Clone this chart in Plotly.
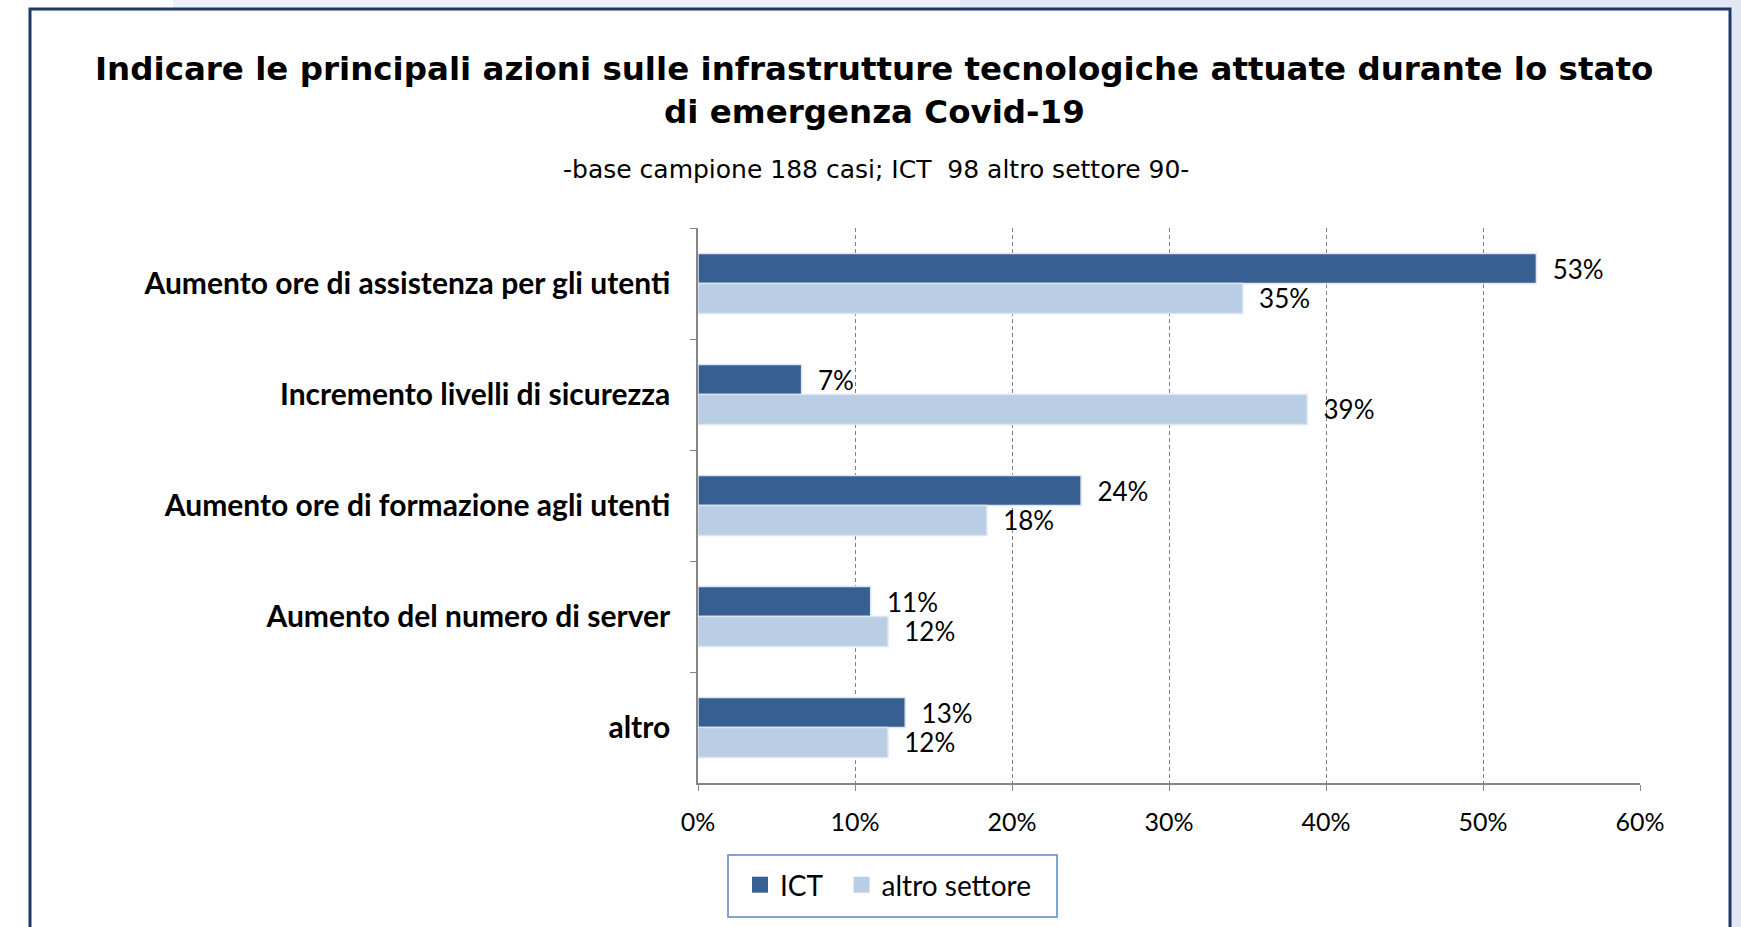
import plotly.graph_objects as go

categories = [
    "Aumento ore di assistenza per gli utenti",
    "Incremento livelli di sicurezza",
    "Aumento ore di formazione agli utenti",
    "Aumento del numero di server",
    "altro",
]
ict_values = [53.4, 6.6, 24.4, 11.0, 13.2]
altro_values = [34.7, 38.8, 18.4, 12.1, 12.1]
series_names = ["ICT", "altro settore"]
x_ticks = [0, 10, 20, 30, 40, 50, 60]
x_tick_labels = ["0%", "10%", "20%", "30%", "40%", "50%", "60%"]

title_line1 = "Indicare le principali azioni sulle infrastrutture tecnologiche attuate durante lo stato"
title_line2 = "di emergenza Covid-19"
subtitle = "-base campione 188 casi; ICT  98 altro settore 90-"

ICT_COLOR = "#375F91"
ALTRO_COLOR = "#B9CDE5"
W, H = 1741, 927
L, R, T, B = 698, 101, 228, 144
PW, PH = W - L - R, H - T - B


def px_x(px):
    return (px - L) / PW


def px_y(py):
    return (H - B - py) / PH


fig = go.Figure()
pad = "\u00a0\u00a0"
legend_pad = ["\u00a0\u00a0", ""]
for i, (name, vals, col) in enumerate([(series_names[0], ict_values, ICT_COLOR),
                                       (series_names[1], altro_values, ALTRO_COLOR)]):
    fig.add_trace(go.Bar(
        y=categories, x=vals, orientation="h", name=name,
        marker=dict(color=col, line=dict(color="#DCE6F2", width=1.5)),
        texttemplate=pad + "%{x:.0f}%", textposition="outside",
        textfont=dict(family="Lato", size=26, color="#000000"),
        cliponaxis=False, constraintext="none", showlegend=False,
    ))
    fig.add_trace(go.Scatter(
        x=[None], y=[None], mode="markers", name=name + legend_pad[i],
        marker=dict(symbol="square", size=18, color=col),
        showlegend=True,
    ))

fig.update_layout(
    width=W, height=H, autosize=False,
    margin=dict(l=L, r=R, t=T, b=B),
    paper_bgcolor="white", plot_bgcolor="white",
    barmode="group", bargap=0.46, bargroupgap=0,
    showlegend=True,
    legend=dict(orientation="h", x=px_x(740), y=px_y(860), xanchor="left", yanchor="top",
                font=dict(family="Lato", size=28, color="#000000"),
                bgcolor="rgba(0,0,0,0)", borderwidth=0),
    xaxis=dict(range=[0, 60], tickvals=x_ticks, ticktext=x_tick_labels,
               showgrid=True, gridcolor="#7F7F7F", gridwidth=1, griddash="4px,3px",
               zeroline=False, showline=True, linecolor="#868686", linewidth=1.5,
               ticks="outside", ticklen=6, tickcolor="#868686",
               tickfont=dict(family="Lato", size=25, color="#000000"),
               ticklabelstandoff=10),
    yaxis=dict(type="category", autorange="reversed",
               showline=True, linecolor="#868686", linewidth=1.5,
               ticks="outside", tickson="boundaries", ticklen=6, tickcolor="#868686",
               showgrid=False,
               tickfont=dict(family="Lato", size=30, weight="bold", color="#000000"),
               ticklabelstandoff=20),
    shapes=[
        dict(type="rect", xref="paper", yref="paper", x0=px_x(173), x1=px_x(960), y0=px_y(9), y1=px_y(0),
             fillcolor="#EEF1F8", line=dict(width=0), layer="below"),
        dict(type="rect", xref="paper", yref="paper", x0=px_x(960), x1=px_x(1741), y0=px_y(9), y1=px_y(0),
             fillcolor="#E2E8F3", line=dict(width=0), layer="below"),
        dict(type="rect", xref="paper", yref="paper", x0=px_x(1731), x1=px_x(1741), y0=px_y(927), y1=px_y(0),
             fillcolor="#E2E8F3", line=dict(width=0), layer="below"),
        dict(type="rect", xref="paper", yref="paper", x0=px_x(30), x1=px_x(1730), y0=px_y(940), y1=px_y(9),
             fillcolor="rgba(0,0,0,0)", line=dict(color="#203864", width=3)),
        dict(type="rect", xref="paper", yref="paper", x0=px_x(728), x1=px_x(1057), y0=px_y(917), y1=px_y(855),
             fillcolor="rgba(0,0,0,0)", line=dict(color="#5B87C3", width=1.5)),
    ],
    annotations=[
        dict(text="<b>" + title_line1 + "</b>", xref="paper", yref="paper", x=px_x(874), y=px_y(69),
             xanchor="center", yanchor="middle", showarrow=False,
             font=dict(family="DejaVu Sans", size=32.5, color="#000000")),
        dict(text="<b>" + title_line2 + "</b>", xref="paper", yref="paper", x=px_x(874), y=px_y(112),
             xanchor="center", yanchor="middle", showarrow=False,
             font=dict(family="DejaVu Sans", size=32.5, color="#000000")),
        dict(text=subtitle, xref="paper", yref="paper", x=px_x(876), y=px_y(170),
             xanchor="center", yanchor="middle", showarrow=False,
             font=dict(family="DejaVu Sans", size=25, color="#000000")),
    ],
)

fig.write_html("out.html", config={"displayModeBar": False},
               post_script="document.body.style.margin='0px';document.body.style.overflow='hidden';")
